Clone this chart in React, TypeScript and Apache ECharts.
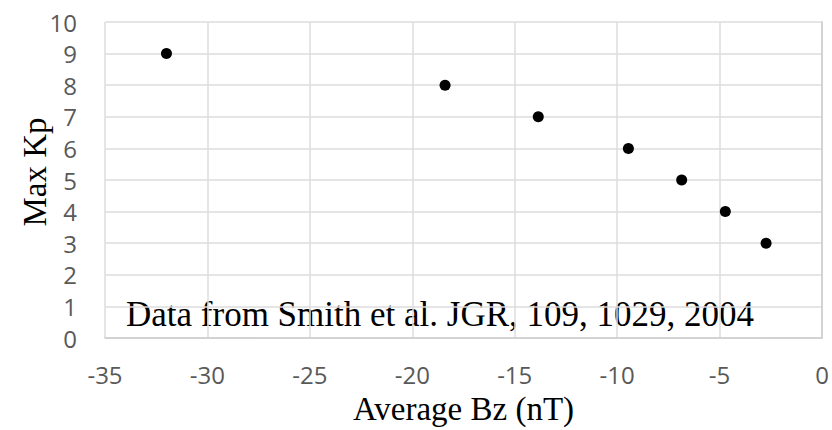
import React, { useEffect, useRef } from "react";
import * as echarts from "echarts";

const bzValues = [-32, -18.4, -13.85, -9.45, -6.85, -4.72, -2.73];
const kpValues = [9, 8, 7, 6, 5, 4, 3];
const xTicks = { min: -35, max: 0, interval: 5 };
const yTicks = { min: 0, max: 10, interval: 1 };
const xName = "Average Bz (nT)";
const yName = "Max Kp";
const note = "Data from Smith et al. JGR, 109, 1029, 2004";

export default function App() {
  const ref = useRef<HTMLDivElement>(null);
  useEffect(() => {
    if (!ref.current) return;
    const chart = echarts.init(ref.current, null, { renderer: "svg" });
    const tickLabel = {
      color: "#595959",
      fontFamily: "Open Sans",
      fontSize: 24,
    };
    chart.setOption({
      animation: false,
      backgroundColor: "#ffffff",
      grid: { left: 105, right: 10, top: 22, bottom: 90, containLabel: false },
      xAxis: {
        type: "value",
        min: xTicks.min,
        max: xTicks.max,
        interval: xTicks.interval,
        name: xName,
        nameLocation: "middle",
        nameGap: 54,
        nameTextStyle: { color: "#000", fontFamily: "Liberation Serif", fontSize: 33 },
        axisLine: { show: true, onZero: false, lineStyle: { color: "#cccccc", width: 1.5 } },
        axisTick: { show: false },
        axisLabel: { ...tickLabel, margin: 24 },
        splitLine: { show: true, lineStyle: { color: "#dddddd", width: 1.5 } },
      },
      yAxis: {
        type: "value",
        min: yTicks.min,
        max: yTicks.max,
        interval: yTicks.interval,
        axisLine: { show: true, lineStyle: { color: "#cccccc", width: 1.5 } },
        axisTick: { show: false },
        axisLabel: { ...tickLabel, margin: 28 },
        splitLine: { show: true, lineStyle: { color: "#dddddd", width: 1.5 } },
      },
      graphic: [
        {
          type: "text",
          x: 35,
          y: 172,
          rotation: Math.PI / 2,
          style: {
            text: yName,
            fill: "#000",
            font: "33px 'Liberation Serif'",
            textAlign: "center",
            textVerticalAlign: "middle",
          },
        },
        {
          type: "text",
          x: 126,
          y: 314,
          style: {
            text: note,
            fill: "#000",
            font: "35px 'Liberation Serif'",
            textAlign: "left",
            textVerticalAlign: "middle",
          },
        },
      ],
      series: [
        {
          type: "scatter",
          symbol: "circle",
          symbolSize: 11,
          itemStyle: { color: "#000", opacity: 1 },
          data: bzValues.map((x, i) => [x, kpValues[i]]),
        },
      ],
    });
    return () => chart.dispose();
  }, []);
  return <div ref={ref} style={{ width: 832, height: 430, position: "absolute", left: 0, top: 0 }} />;
}
